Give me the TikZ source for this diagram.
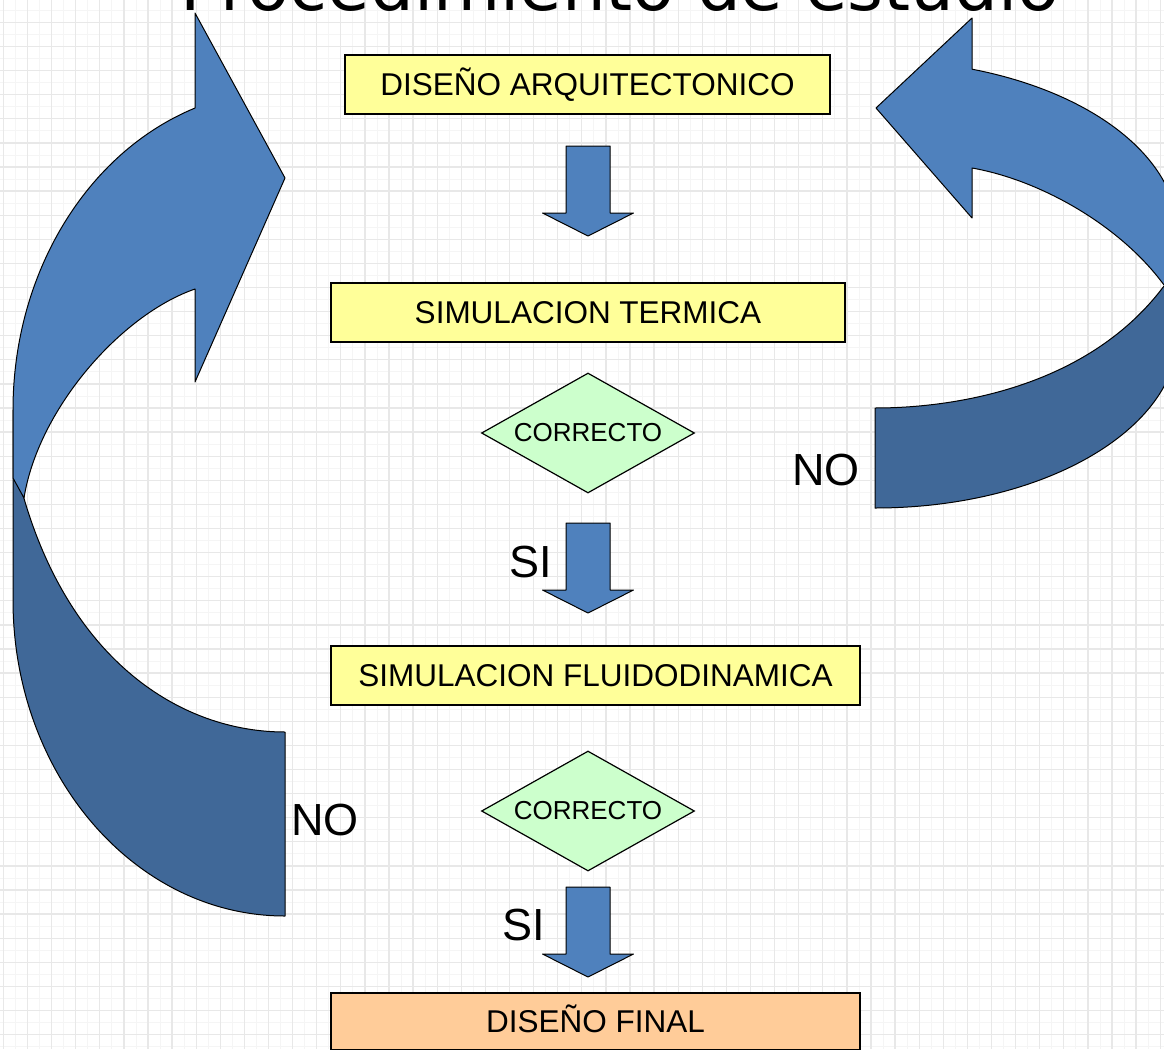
\documentclass[tikz,border=0pt]{standalone}
\usepackage{fontspec}
\setmainfont{Liberation Sans}
\newfontfamily\titlefont{DejaVu Sans}
\usepackage{tikz}
\usetikzlibrary{calc}
\usetikzlibrary{positioning}
\usetikzlibrary{shapes.geometric}
\definecolor{stepyellow}{HTML}{FFFF99}
\definecolor{checkgreen}{HTML}{CCFFCC}
\definecolor{finalorange}{HTML}{FFCC99}
\definecolor{bandlight}{HTML}{4F81BD}
\definecolor{banddark}{HTML}{406898}
\tikzset{
  flow_node/.style = {align=center, inner sep=0pt, text centered,
    draw=black, line width=1.2pt},
  step_node/.style = {flow_node, rectangle, fill=stepyellow,
    minimum height=59pt, text height=22pt, text depth=0pt,
    font=\fontsize{31.5}{36}\selectfont},
  final_node/.style = {step_node, fill=finalorange, minimum height=57pt},
  check_node/.style = {flow_node, diamond, aspect=1.775, fill=checkgreen,
    minimum width=213pt, minimum height=120pt,
    font=\fontsize{26}{30}\selectfont},
  answer_node/.style = {inner sep=0pt, font=\fontsize{45}{50}\selectfont},
  title_node/.style = {inner sep=0pt, anchor=base,
    font=\titlefont\fontsize{69}{80}\selectfont},
  band_light/.style = {fill=bandlight, draw=black, line width=1pt, line join=round},
  band_dark/.style = {fill=banddark, draw=black, line width=1pt, line join=round},
  grid_major/.style = {draw=black!9, line width=1.3pt},
  grid_minor/.style = {draw=black!4, line width=0.8pt},
  down_arrow/.pic = {
    \draw[band_light] (-22,0) -- (22,0) -- (22,-67) -- (45.5,-67) -- (0,-90)
      -- (-45.5,-67) -- (-22,-67) -- cycle;
  }
}
\begin{document}
\begin{tikzpicture}[x=1pt, y=1pt]
  \useasboundingbox (0,0) rectangle (1164,-1049);
  \fill[white] (0,0) rectangle (1164,-1049);
  % background grid
  \foreach \k in {0,...,96} {
    \draw[grid_minor] ({15.45+24.1*\k/2},0) -- ++(0,-1049);
    \draw[grid_minor] (0,{-10.35-24.1*\k/2}) -- ++(1164,0);
  }
  \foreach \k in {0,...,48} {
    \draw[grid_major] ({3.4+24.1*\k},0) -- ++(0,-1049);
    \draw[grid_major] (0,{1.7-24.1*\k}) -- ++(1164,0);
  }

  \node[title_node] (title) at (620,-11) {Procedimiento de estudio};

  % left loop arrow (back part, then front part)
  \draw[band_dark] (13,-410) -- (13,-600)
    arc[start angle=180, end angle=270, x radius=272, y radius=316]
    -- (285,-732) .. controls (180,-732) and (70,-660) .. (23,-495) -- cycle;
  \draw[band_light] (195,-13) -- (285,-178) -- (195,-382) -- (195,-289)
    .. controls (120,-315) and (38,-410) .. (24,-498)
    -- (13,-478) -- (13,-410)
    arc[start angle=180, end angle=109.3, x radius=272, y radius=320] -- cycle;

  % right loop arrow
  \draw[band_dark] (1164,-286) -- (1178,-286) -- (1178,-334)
    arc[start angle=0, end angle=-90, x radius=303, y radius=174]
    -- (875,-408) .. controls (960,-408) and (1090,-385) .. (1164,-286) -- cycle;
  \draw[band_light] (972,-18) -- (876,-108) -- (972,-218) -- (972,-168)
    .. controls (1040,-180) and (1120,-225) .. (1164,-285)
    -- (1178,-285) -- (1178,-234)
    arc[start angle=0, end angle=71.3, x radius=303, y radius=174] -- cycle;

  % flow steps
  \node[step_node, minimum width=485pt] (arq) at (587.5,-84.5) {DISEÑO ARQUITECTONICO};
  \node[step_node, minimum width=514pt] (term) at (588,-312.5) {SIMULACION TERMICA};
  \node[check_node] (check_term) at (588,-433) {CORRECTO};
  \node[step_node, minimum width=529pt] (fluid) at (595.5,-675.5) {SIMULACION FLUIDODINAMICA};
  \node[check_node] (check_fluid) at (588,-811) {CORRECTO};
  \node[final_node, minimum width=529pt] (final) at (595.5,-1021.5) {DISEÑO FINAL};

  \pic at (588,-146) {down_arrow};
  \pic at (588,-523) {down_arrow};
  \pic at (588,-887) {down_arrow};

  \node[answer_node] (si_term) at (531,-562) {SI};
  \node[answer_node] (si_fluid) at (524,-925) {SI};
  \node[answer_node, anchor=east] (no_term) at (860,-470) {NO};
  \node[answer_node] (no_fluid) at (325,-820) {NO};
\end{tikzpicture}
\end{document}
